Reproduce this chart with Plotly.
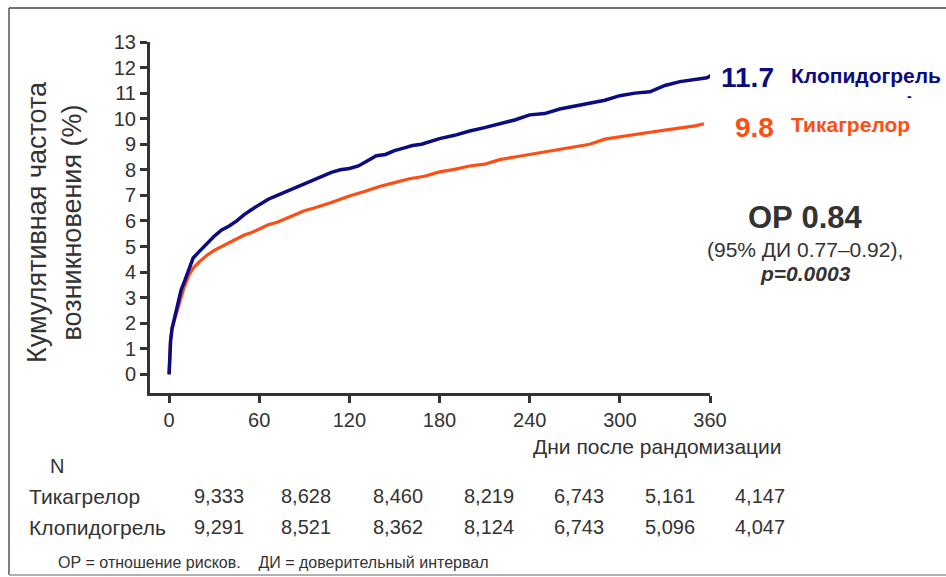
import plotly.graph_objects as go

# Kaplan-Meier style cumulative incidence (%) by day after randomisation
days_clop = [0, 0.5, 1, 2, 4, 6, 8, 10, 13, 16, 20, 25, 30, 35, 40, 45, 50, 55, 60, 66,
             72, 78, 84, 90, 96, 102, 108, 114, 120, 126, 132, 138, 144, 150, 156, 162,
             168, 174, 180, 190, 200, 210, 220, 230, 240, 250, 260, 270, 280, 290, 300,
             310, 320, 330, 340, 350, 358, 361]
rate_clop = [0, 0.8, 1.3, 1.8, 2.3, 2.9, 3.3, 3.6, 4.1, 4.55, 4.8, 5.1, 5.4, 5.65, 5.8,
             6.0, 6.25, 6.45, 6.62, 6.85, 7.0, 7.15, 7.3, 7.45, 7.6, 7.75, 7.9, 8.0, 8.05,
             8.15, 8.35, 8.55, 8.6, 8.75, 8.85, 8.95, 9.0, 9.1, 9.22, 9.35, 9.52, 9.65,
             9.8, 9.95, 10.15, 10.2, 10.38, 10.5, 10.6, 10.72, 10.9, 11.0, 11.05, 11.3,
             11.45, 11.55, 11.6, 11.7]

days_tica = [0, 0.5, 1, 2, 4, 6, 8, 10, 13, 16, 20, 25, 30, 35, 40, 45, 50, 55, 60, 66,
             72, 78, 84, 90, 96, 102, 108, 114, 120, 130, 140, 150, 160, 170, 180, 190,
             200, 210, 220, 230, 240, 250, 260, 270, 280, 290, 300, 310, 320, 330, 340,
             350, 356]
rate_tica = [0, 0.9, 1.4, 1.8, 2.2, 2.6, 3.0, 3.4, 3.85, 4.15, 4.4, 4.65, 4.85, 5.0, 5.15,
             5.3, 5.45, 5.55, 5.7, 5.85, 5.95, 6.1, 6.25, 6.4, 6.5, 6.6, 6.72, 6.85, 6.98,
             7.15, 7.35, 7.5, 7.65, 7.75, 7.92, 8.02, 8.15, 8.22, 8.4, 8.5, 8.6, 8.7, 8.8,
             8.88, 9.0, 9.2, 9.3, 9.38, 9.47, 9.55, 9.63, 9.72, 9.8]

x_ticks = [0, 60, 120, 180, 240, 300, 360]
y_ticks = list(range(0, 14))

final_clop = "11.7"
final_tica = "9.8"
name_clop = "Клопидогрель"
name_tica = "Тикагрелор"

n_tica = ["9,333", "8,628", "8,460", "8,219", "6,743", "5,161", "4,147"]
n_clop = ["9,291", "8,521", "8,362", "8,124", "6,743", "5,096", "4,047"]

hr_text = "ОР 0.84"
ci_text = "(95% ДИ 0.77–0.92),"
p_text = "p=0.0003"

NAVY = "#0b0b82"
ORANGE = "#ff4e14"
GREY = "#333333"
FONT = "Arial, Liberation Sans, sans-serif"

W, H = 946, 577
L, R, T, B = 150, 236, 42, 184
PW, PH = W - L - R, H - T - B


def px(x):
    return (x - L) / PW


def py(y):
    return (H - B - y) / PH


fig = go.Figure()
fig.add_trace(go.Scatter(x=days_tica, y=rate_tica, mode="lines",
                         line=dict(color=ORANGE, width=3.2), name=name_tica))
fig.add_trace(go.Scatter(x=days_clop, y=rate_clop, mode="lines",
                         line=dict(color=NAVY, width=3.5), name=name_clop))

axis_common = dict(showgrid=False, zeroline=False, showline=True, linecolor=GREY,
                   linewidth=3, ticks="outside", ticklen=7, tickwidth=2.5,
                   tickcolor=GREY, tickfont=dict(family=FONT, size=20, color=GREY))

fig.update_xaxes(range=[-12.7, 360], tickvals=x_ticks,
                 ticktext=[str(v) for v in x_ticks], **axis_common)
fig.update_yaxes(range=[-0.73, 13], tickvals=y_ticks,
                 ticktext=[str(v) for v in y_ticks], **axis_common)

ann = []


def add(text, x, y, size, color=GREY, xanchor="center", yanchor="middle", angle=0):
    ann.append(dict(text=text, x=px(x), y=py(y), xref="paper", yref="paper",
                    showarrow=False, xanchor=xanchor, yanchor=yanchor, textangle=angle,
                    font=dict(family=FONT, size=size, color=color)))


# y-axis title
add("Кумулятивная частота<br>возникновения (%)", 55, 222, 27, angle=-90)
# x-axis title
add("Дни после рандомизации", 657, 447, 21)

# end-of-curve labels
add("<b>" + final_clop + "</b>", 776, 78, 28, NAVY, xanchor="right")
add("<b>" + name_clop + "</b>", 789, 76, 21, NAVY, xanchor="left")
add("<b>-</b>", 909, 96, 14, NAVY)
add("<b>" + final_tica + "</b>", 776, 127, 28, ORANGE, xanchor="right")
add("<b>" + name_tica + "</b>", 789, 125, 21, ORANGE, xanchor="left")

# hazard ratio block
add("<b>" + hr_text + "</b>", 805, 218, 31)
add(ci_text, 805, 249, 21)
add("<b><i>" + p_text + "</i></b>", 805, 273, 21)

# numbers at risk
col_x = [219, 306, 398, 489, 579, 670, 760]
add("N", 48, 466, 20, xanchor="left")
add(name_tica, 27, 496, 21, xanchor="left")
add(name_clop, 27, 527, 21, xanchor="left")
for cx, a, b in zip(col_x, n_tica, n_clop):
    add(a, cx, 496, 20)
    add(b, cx, 527, 20)

# footnote
add("ОР = отношение рисков.\u00a0\u00a0\u00a0\u00a0ДИ = доверительный интервал",
    56, 562, 16, xanchor="left")

# frame around the slide
shapes = [
    dict(type="line", xref="paper", yref="paper", x0=px(9), x1=px(9), y0=py(8), y1=py(575),
         line=dict(color="#555555", width=1.5)),
    dict(type="line", xref="paper", yref="paper", x0=px(9), x1=px(W + 2), y0=py(8), y1=py(8),
         line=dict(color="#444444", width=1.5)),
    dict(type="line", xref="paper", yref="paper", x0=px(9), x1=px(W + 2), y0=py(575), y1=py(575),
         line=dict(color="#b0b0b0", width=2)),
]

fig.update_layout(width=W, height=H, margin=dict(l=L, r=R, t=T, b=B),
                  paper_bgcolor="white", plot_bgcolor="white", showlegend=False,
                  annotations=ann, shapes=shapes)

fig.write_html("out.html")
